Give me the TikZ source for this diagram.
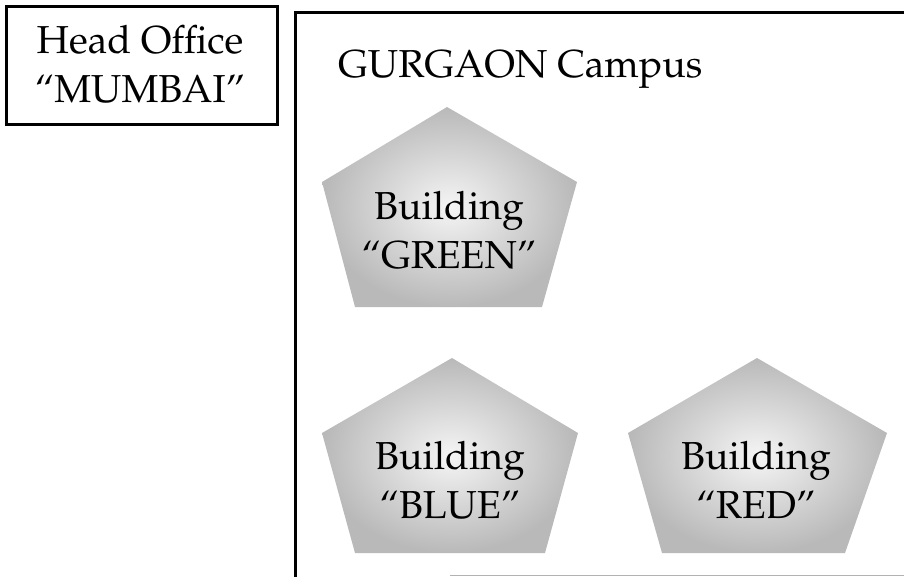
\documentclass[tikz,border=0pt]{standalone}
\usepackage[T1]{fontenc}
\usepackage{mathpazo}
\begin{document}
\begin{tikzpicture}[x=1pt,y=-1pt,
  lbl/.style={font=\fontsize{39}{49}\selectfont, align=center, inner sep=0pt},
  frame/.style={draw=black, line width=3pt},
  bldg/.style={inner color=gray!8, outer color=gray!55}]
\useasboundingbox (0,0) rectangle (904,577);
% Head office
\node[frame, minimum width=271pt, minimum height=118pt, anchor=north west, inner sep=0pt] (head) at (5,5) {};
\node[lbl] (headtxt) at (140,64) {Head Office\\``MUMBAI''};
% Campus
\draw[frame] (295,590) -- (295,13) -- (920,13);
\draw[gray!60, line width=1pt] (450,575) -- (904,575);
\node[lbl, anchor=base west] (campus) at (338,78) {GURGAON Campus};
% Buildings
\shade[bldg] (447,107) -- (577,182) -- (542,307) -- (355,307) -- (322,182) -- cycle;
\node[lbl] (green) at (449,230) {Building\\``GREEN''};
\shade[bldg] (452,358) -- (578,433) -- (545,553) -- (355,553) -- (322,433) -- cycle;
\node[lbl] (blue) at (450,480) {Building\\``BLUE''};
\shade[bldg] (757,358) -- (887,433) -- (845,553) -- (662,553) -- (628,433) -- cycle;
\node[lbl] (red) at (756,480) {Building\\``RED''};
\end{tikzpicture}
\end{document}
